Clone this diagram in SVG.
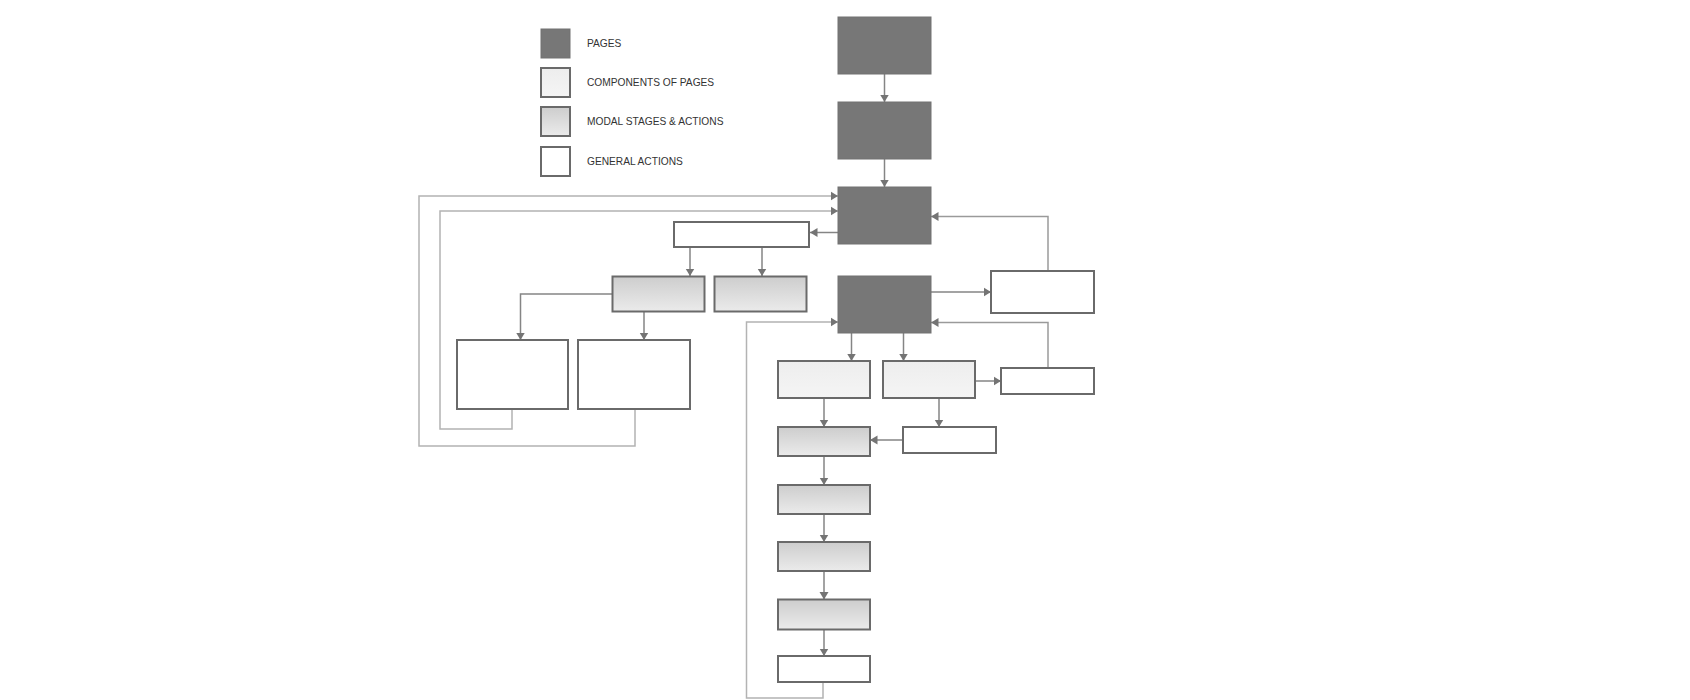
<svg xmlns="http://www.w3.org/2000/svg" width="1690" height="700" viewBox="0 0 1690 700">
<defs>
<linearGradient id="gModal" x1="0" y1="0" x2="0" y2="1">
<stop offset="0" stop-color="#cdcdcd"/>
<stop offset="1" stop-color="#ebebeb"/>
</linearGradient>
<linearGradient id="gComp" x1="0" y1="0" x2="0" y2="1">
<stop offset="0" stop-color="#ededed"/>
<stop offset="1" stop-color="#f5f5f5"/>
</linearGradient>
<marker id="arr" markerUnits="userSpaceOnUse" markerWidth="9" markerHeight="10" refX="7.5" refY="5" orient="auto">
<path d="M0,0.5 L7.5,5 L0,9.5 z" fill="#747474"/>
</marker>
</defs>
<style>
.page{fill:#777777;stroke:#727272;stroke-width:1}
.comp{fill:url(#gComp);stroke:#6a6a6a;stroke-width:2}
.modal{fill:url(#gModal);stroke:#6a6a6a;stroke-width:2}
.gen{fill:#ffffff;stroke:#6a6a6a;stroke-width:2}
.lbl{font-family:"Liberation Sans",Arial,sans-serif;font-size:10.2px;fill:#333}
.c{fill:none;stroke:#858585;stroke-width:1.5;marker-end:url(#arr)}
.cl{fill:none;stroke:#b3b3b3;stroke-width:1.5;marker-end:url(#arr)}
.cm{fill:none;stroke:#9a9a9a;stroke-width:1.5;marker-end:url(#arr)}
</style>
<rect width="1690" height="700" fill="#ffffff"/>
<g id="legend">
<rect class="page" x="541" y="29" width="29" height="29"/>
<text class="lbl" x="587" y="47">PAGES</text>
<rect class="comp" x="541" y="68" width="29" height="29"/>
<text class="lbl" x="587" y="86">COMPONENTS OF PAGES</text>
<rect class="modal" x="541" y="107" width="29" height="29"/>
<text class="lbl" x="587" y="125">MODAL STAGES &amp; ACTIONS</text>
<rect class="gen" x="541" y="147" width="29" height="29"/>
<text class="lbl" x="587" y="165">GENERAL ACTIONS</text>
</g>
<g id="connectors">
<line class="c" x1="884.5" y1="74" x2="884.5" y2="102"/>
<line class="c" x1="884.5" y1="159" x2="884.5" y2="187"/>
<line class="c" x1="838" y1="232.5" x2="810" y2="232.5"/>
<line class="c" x1="690" y1="247" x2="690" y2="276"/>
<line class="c" x1="762" y1="247" x2="762" y2="276"/>
<polyline class="c" points="612,294 520.5,294 520.5,340"/>
<line class="c" x1="644" y1="311" x2="644" y2="340"/>
<polyline class="cl" points="512,409 512,429 440,429 440,211 838,211"/>
<polyline class="cl" points="635,409 635,446 419,446 419,196 838,196"/>
<line class="c" x1="931" y1="292" x2="991" y2="292"/>
<polyline class="cm" points="1048,271 1048,216.5 931,216.5"/>
<line class="c" x1="851.5" y1="333" x2="851.5" y2="361"/>
<line class="c" x1="903.5" y1="333" x2="903.5" y2="361"/>
<line class="c" x1="975" y1="381" x2="1001" y2="381"/>
<polyline class="cm" points="1048,368 1048,322.5 931,322.5"/>
<line class="c" x1="824" y1="398" x2="824" y2="427"/>
<line class="c" x1="939" y1="398" x2="939" y2="427"/>
<line class="c" x1="903" y1="440" x2="870" y2="440"/>
<line class="c" x1="824" y1="456" x2="824" y2="485"/>
<line class="c" x1="824" y1="514" x2="824" y2="542"/>
<line class="c" x1="824" y1="571" x2="824" y2="599.5"/>
<line class="c" x1="824" y1="629.5" x2="824" y2="656"/>
<polyline class="cl" points="823,682 823,698 746.5,698 746.5,322 838,322"/>
</g>
<g id="page1"><rect class="page" x="838" y="17" width="93" height="57"/></g>
<g id="page2"><rect class="page" x="838" y="102" width="93" height="57"/></g>
<g id="page3"><rect class="page" x="838" y="187" width="93" height="57"/></g>
<g id="page4"><rect class="page" x="838" y="276" width="93" height="57"/></g>
<g id="action-w1"><rect class="gen" x="674" y="222" width="135" height="25"/></g>
<g id="modal-a"><rect class="modal" x="612.5" y="276.5" width="92" height="35"/></g>
<g id="modal-b"><rect class="modal" x="714.5" y="276.5" width="92" height="35"/></g>
<g id="action-l1"><rect class="gen" x="457" y="340" width="111" height="69"/></g>
<g id="action-l2"><rect class="gen" x="578" y="340" width="112" height="69"/></g>
<g id="action-g1"><rect class="gen" x="991" y="271" width="103" height="42"/></g>
<g id="comp-c1"><rect class="comp" x="778" y="361" width="92" height="37"/></g>
<g id="comp-c2"><rect class="comp" x="883" y="361" width="92" height="37"/></g>
<g id="action-g2"><rect class="gen" x="1001" y="368" width="93" height="26"/></g>
<g id="action-g3"><rect class="gen" x="903" y="427" width="93" height="26"/></g>
<g id="modal-m1"><rect class="modal" x="778" y="427" width="92" height="29"/></g>
<g id="modal-m2"><rect class="modal" x="778" y="485" width="92" height="29"/></g>
<g id="modal-m3"><rect class="modal" x="778" y="542" width="92" height="29"/></g>
<g id="modal-m4"><rect class="modal" x="778" y="599.5" width="92" height="30"/></g>
<g id="action-g4"><rect class="gen" x="778" y="656" width="92" height="26"/></g>
</svg>
